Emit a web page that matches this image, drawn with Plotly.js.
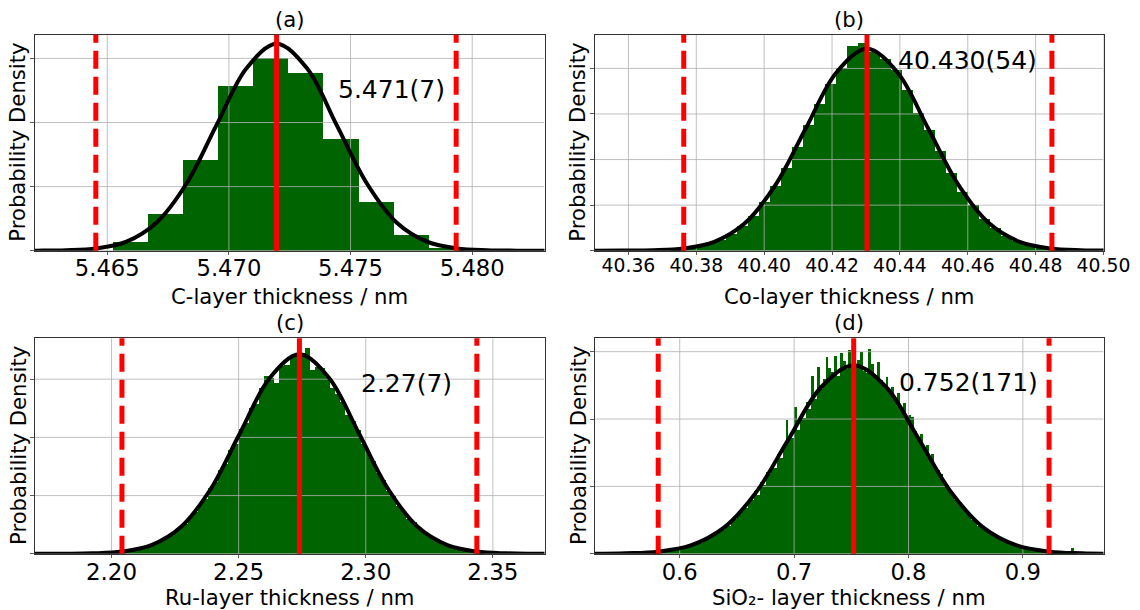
<!DOCTYPE html>
<html><head><meta charset="utf-8">
<script src="https://cdn.plot.ly/plotly-3.0.1.min.js"></script>
<style>html,body{margin:0;padding:0;background:#fff}#chart{width:1140px;height:610px}</style>
</head><body><div id="chart"></div>
<script>
// ================= DATA =================
const panelLabels = ['(a)', '(b)', '(c)', '(d)'];
const xTitles = ['C-layer thickness / nm', 'Co-layer thickness / nm', 'Ru-layer thickness / nm', 'SiO\u2082- layer thickness / nm'];
const yTitle = 'Probability Density';
const resultTexts = ['5.471(7)', '40.430(54)', '2.27(7)', '0.752(171)'];
const resultTextX = [5.4767, 40.4598, 2.3161, 0.8523];
const resultTextY = [125.8, 20.9, 14.6, 6.34];
const means = [5.47196, 40.4303, 2.2739, 0.7521];
const lowerBounds = [5.46453, 40.3763, 2.2041, 0.5812];
const upperBounds = [5.47934, 40.4848, 2.3437, 0.9229];

// x tick labels
const xTickValsA = [5.465, 5.470, 5.475, 5.480];
const xTickTextA = ['5.465', '5.470', '5.475', '5.480'];
const xTickValsB = [40.36, 40.38, 40.40, 40.42, 40.44, 40.46, 40.48, 40.50];
const xTickTextB = ['40.36', '40.38', '40.40', '40.42', '40.44', '40.46', '40.48', '40.50'];
const xTickValsC = [2.20, 2.25, 2.30, 2.35];
const xTickTextC = ['2.20', '2.25', '2.30', '2.35'];
const xTickValsD = [0.6, 0.7, 0.8, 0.9];
const xTickTextD = ['0.6', '0.7', '0.8', '0.9'];
// y grid levels (labels hidden in the original)
const yTickValsA = [0, 50, 100, 150];
const yTickValsB = [0, 5, 10, 15, 20];
const yTickValsC = [0, 5, 10, 15];
const yTickValsD = [0, 2.5, 5, 7.5];

// histograms (density): first bin centre + bin width + heights
const binStartA = 5.46594, binWidthA = 0.001444;
const densityA = [6.8, 28.6, 71.1, 128.1, 150.0, 138.3, 87.5, 38.0, 12.5, 2.1];

const binStartB = 40.37422, binWidthB = 0.00324;
const densityB = [0.17, 0.30, 0.48, 0.78, 1.20, 1.85, 2.70, 3.85, 5.30, 7.05,
  9.10, 11.35, 13.80, 16.10, 18.30, 20.10, 22.45, 22.74,
  21.85, 21.00, 19.80, 17.60, 15.10, 13.20, 10.90, 8.55, 6.40, 5.05,
  3.45, 2.45, 1.60, 1.08, 0.66, 0.40, 0.24, 0.13];

const binStartC = 2.205, binWidthC = 0.002;
const densityC = [0.20, 0.30, 0.33, 0.47, 0.52, 0.72, 0.83, 1.10, 1.25, 1.60,
  1.85, 2.30, 2.60, 3.20, 3.55, 4.30, 4.75, 5.65, 6.15, 7.20,
  7.75, 8.90, 9.45, 10.70, 11.20, 12.55, 12.90, 14.20, 15.30, 15.10,
  14.70, 16.10, 16.20, 16.95, 17.20, 17.25, 17.70, 15.75, 16.05, 15.95,
  15.20, 14.20, 13.70, 13.00, 11.95, 11.40, 10.60, 9.45, 8.75, 7.95,
  6.90, 6.35, 5.40, 4.95, 4.10, 3.70, 3.00, 2.70, 2.15, 1.90,
  1.50, 1.30, 1.00, 0.87, 0.66, 0.56, 0.42, 0.35, 0.26, 0.21, 0.16];

const binStartD = 0.57875, binWidthD = 0.0025;
const densityD = [0.07, 0.05, 0.10, 0.08, 0.13, 0.11, 0.16, 0.12, 0.20, 0.17,
  0.26, 0.21, 0.31, 0.28, 0.35, 0.43, 0.40, 0.52, 0.50, 0.66,
  0.62, 0.78, 0.76, 0.92, 0.90, 1.12, 1.05, 1.31, 1.28, 1.50,
  1.55, 1.78, 1.70, 2.05, 1.98, 2.32, 2.20, 2.68, 2.55, 3.02,
  2.95, 3.30, 3.18, 3.72, 3.55, 4.02, 4.95, 4.38, 4.30, 5.45,
  4.60, 5.10, 5.05, 5.62, 5.38, 6.60, 5.75, 6.95, 6.10, 6.50,
  7.30, 6.90, 6.75, 7.35, 6.60, 7.45, 7.15, 6.85, 7.55, 7.00,
  6.95, 7.20, 7.50, 6.80, 6.70, 7.60, 7.05, 6.65, 7.10, 6.45,
  6.30, 6.55, 6.05, 6.20, 5.75, 5.95, 5.40, 5.60, 5.05, 5.15,
  5.08, 4.55, 4.30, 4.45, 3.95, 4.05, 3.60, 3.70, 3.20, 3.10,
  2.95, 2.70, 2.55, 2.30, 2.25, 2.00, 1.95, 1.72, 1.70, 1.50,
  1.45, 1.25, 1.22, 1.05, 1.06, 0.90, 0.88, 0.76, 0.74, 0.62,
  0.60, 0.50, 0.50, 0.42, 0.40, 0.33, 0.34, 0.27, 0.26, 0.21,
  0.22, 0.17, 0.16, 0.13, 0.14, 0.10, 0.11, 0.08, 0.09, 0.06,
  0.07, 0.05, 0.05, 0.04, 0.04, 0.03, 0.20, 0.02];

// fitted normal curves
const curveXA = [5.46085, 5.46208, 5.46331, 5.46455, 5.46579, 5.46702, 5.46826, 5.46949, 5.47073, 5.47196, 5.47320, 5.47443, 5.47567, 5.47690, 5.47814, 5.47937, 5.48061, 5.48184, 5.48308];
const curveYA = [0.00, 0.05, 0.35, 1.79, 7.09, 21.85, 52.44, 97.95, 142.5, 161.5, 142.5, 97.95, 52.44, 21.85, 7.09, 1.79, 0.35, 0.05, 0.00];
const curveXB = [40.3493, 40.3583, 40.3673, 40.3763, 40.3853, 40.3943, 40.4033, 40.4123, 40.4213, 40.4303, 40.4393, 40.4483, 40.4573, 40.4663, 40.4753, 40.4843, 40.4933, 40.5023];
const curveYB = [0.00, 0.01, 0.05, 0.25, 0.97, 3.00, 7.20, 13.44, 19.56, 22.16, 19.56, 13.44, 7.20, 3.00, 0.97, 0.25, 0.05, 0.01];
const curveXC = [2.1692, 2.1808, 2.1925, 2.2041, 2.2157, 2.2274, 2.2390, 2.2506, 2.2623, 2.2739, 2.2855, 2.2972, 2.3088, 2.3204, 2.3321, 2.3437, 2.3554, 2.3670, 2.3786];
const curveYC = [0.00, 0.01, 0.04, 0.19, 0.75, 2.32, 5.57, 10.40, 15.13, 17.14, 15.13, 10.40, 5.57, 2.32, 0.75, 0.19, 0.04, 0.01, 0.00];
const curveXD = [0.4956, 0.5241, 0.5526, 0.5811, 0.6096, 0.6381, 0.6666, 0.6951, 0.7236, 0.7521, 0.7806, 0.8091, 0.8376, 0.8661, 0.8946, 0.9231, 0.9516, 0.9801, 1.0086];
const curveYD = [0.00, 0.00, 0.02, 0.08, 0.31, 0.95, 2.27, 4.25, 6.18, 7.00, 6.18, 4.25, 2.27, 0.95, 0.31, 0.08, 0.02, 0.00, 0.00];

// ================= LAYOUT / STYLE =================
const W = 1140, H = 610;
const FONT = 'DejaVu Sans, Liberation Sans, sans-serif';
const GREEN = '#006400', RED = '#ff0000', GRID = '#b0b0b0', SPINE = '#333333';
const tickSizes = [22.7, 18.8, 23, 22.7];
const TITLE_SIZE = 21.2, NOTE_SIZE = 25;
const colDom = [[34.5 / W, 544.5 / W], [594.5 / W, 1103.5 / W]];
const rowDom = [[1 - 250.7 / H, 1 - 34.7 / H], [1 - 553.8 / H, 1 - 338.2 / H]];
const xTitleShift = [-45.5, -43.5];
const xRanges = [[5.46201, 5.48297], [40.35, 40.50], [2.1697, 2.3703], [0.5255, 0.9705]];
const yRanges = [[0, 168.5], [0, 23.7], [0, 18.52], [0, 8.0]];

const panels = [
  {bs: binStartA, bw: binWidthA, d: densityA, cx: curveXA, cy: curveYA, xt: xTickValsA, xtt: xTickTextA, yt: yTickValsA},
  {bs: binStartB, bw: binWidthB, d: densityB, cx: curveXB, cy: curveYB, xt: xTickValsB, xtt: xTickTextB, yt: yTickValsB},
  {bs: binStartC, bw: binWidthC, d: densityC, cx: curveXC, cy: curveYC, xt: xTickValsC, xtt: xTickTextC, yt: yTickValsC},
  {bs: binStartD, bw: binWidthD, d: densityD, cx: curveXD, cy: curveYD, xt: xTickValsD, xtt: xTickTextD, yt: yTickValsD}
];

const traces = [];
const layout = {
  width: W, height: H, autosize: false,
  margin: {l: 0, r: 0, t: 0, b: 0},
  paper_bgcolor: '#ffffff', plot_bgcolor: '#ffffff',
  showlegend: false, bargap: 0,
  font: {family: FONT, color: '#000000', size: TITLE_SIZE},
  annotations: [], shapes: []
};

panels.forEach((p, i) => {
  const n = i === 0 ? '' : String(i + 1);
  const xa = 'x' + n, ya = 'y' + n;
  const col = i % 2, row = Math.floor(i / 2);
  const [y0, y1] = yRanges[i];
  const [x0, x1] = xRanges[i];

  // histogram
  traces.push({type: 'bar', x0: p.bs, dx: p.bw, y: p.d, xaxis: xa, yaxis: ya,
    marker: {color: GREEN, line: {width: 0}}, hoverinfo: 'skip'});

  // grid drawn above the bars but below the lines (matplotlib default)
  const gx = [], gy = [];
  p.xt.forEach(v => { gx.push(v, v, null); gy.push(y0, y1, null); });
  p.yt.forEach(v => { gx.push(x0, x1, null); gy.push(v, v, null); });
  traces.push({type: 'scatter', mode: 'lines', x: gx, y: gy, xaxis: xa, yaxis: ya,
    line: {color: GRID, width: 0.8}, hoverinfo: 'skip'});

  // fitted curve
  traces.push({type: 'scatter', mode: 'lines', x: p.cx, y: p.cy, xaxis: xa, yaxis: ya,
    line: {color: '#000000', width: 4, shape: 'spline', smoothing: 1}, hoverinfo: 'skip'});

  layout['xaxis' + n] = {
    domain: colDom[col], range: xRanges[i], anchor: ya,
    tickmode: 'array', tickvals: p.xt, ticktext: p.xtt,
    ticks: 'outside', ticklen: 3.5, tickwidth: 0.8, tickcolor: SPINE, ticklabelstandoff: -6,
    showgrid: false, zeroline: false, showline: true, mirror: true, linecolor: SPINE, linewidth: 1,
    tickfont: {family: FONT, size: tickSizes[i], color: '#000'},
    fixedrange: true
  };
  layout['yaxis' + n] = {
    domain: rowDom[row], range: yRanges[i], anchor: xa,
    tickmode: 'array', tickvals: p.yt, showticklabels: false,
    ticks: 'outside', ticklen: 3.5, tickwidth: 0.8, tickcolor: SPINE,
    showgrid: false, zeroline: false, showline: true, mirror: true, linecolor: SPINE, linewidth: 1,
    fixedrange: true
  };

  // axis titles
  layout.annotations.push({text: xTitles[i], xref: xa + ' domain', yref: ya + ' domain',
    x: 0.5, y: 0, xanchor: 'center', yanchor: 'middle', yshift: xTitleShift[row], showarrow: false,
    font: {family: FONT, size: TITLE_SIZE, color: '#000'}});
  layout.annotations.push({text: yTitle, xref: xa + ' domain', yref: ya + ' domain',
    x: 0, y: 0.5, xanchor: 'center', yanchor: 'middle', xshift: -16.5, textangle: -90, showarrow: false,
    font: {family: FONT, size: TITLE_SIZE, color: '#000'}});
  // panel label
  layout.annotations.push({text: panelLabels[i], xref: xa + ' domain', yref: ya + ' domain',
    x: 0.5, y: 1, xanchor: 'center', yanchor: 'bottom', yshift: 1, showarrow: false,
    font: {family: FONT, size: TITLE_SIZE, color: '#000'}});
  // result text
  layout.annotations.push({text: resultTexts[i], xref: xa, yref: ya,
    x: resultTextX[i], y: resultTextY[i], xanchor: 'center', yanchor: 'middle', showarrow: false,
    font: {family: FONT, size: NOTE_SIZE, color: '#000'}});

  // mean and bounds
  layout.shapes.push({type: 'line', xref: xa, yref: ya + ' domain', x0: means[i], x1: means[i], y0: 0, y1: 1,
    line: {color: RED, width: 5}, layer: 'above'});
  [lowerBounds[i], upperBounds[i]].forEach(b => layout.shapes.push({type: 'line', xref: xa, yref: ya + ' domain',
    x0: b, x1: b, y0: 0, y1: 1, line: {color: RED, width: 5, dash: '18px,8px'}, layer: 'above'}));
});

Plotly.newPlot('chart', traces, layout, {staticPlot: true, displayModeBar: false});
</script>
</body></html>
